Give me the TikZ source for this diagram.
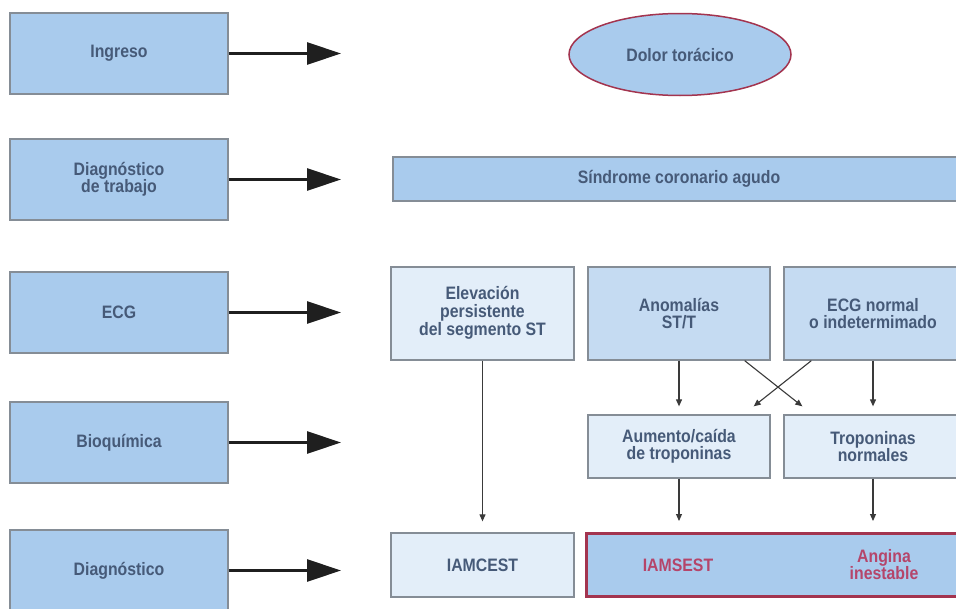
\documentclass[tikz,border=0pt]{standalone}
\usepackage{fontspec}
\setmainfont{Liberation Sans}[FakeStretch=0.88]
\usetikzlibrary{arrows.meta,shapes.geometric,calc}

\definecolor{stagefill}{HTML}{A9CBED}
\definecolor{palefill}{HTML}{E3EEF9}
\definecolor{midfill}{HTML}{C5DBF2}
\definecolor{boxline}{HTML}{858D96}
\definecolor{labelink}{HTML}{465A78}
\definecolor{wine}{HTML}{A3344F}
\definecolor{winetext}{HTML}{B5456A}
\definecolor{thinarrow}{HTML}{3A3A3A}

\newcommand\boxfont{\fontsize{18}{17}\selectfont\bfseries}

\tikzset{
  base/.style={draw=boxline, line width=1.3pt, text=labelink, font=\boxfont,
               align=center, inner sep=0pt},
  stage/.style={base, fill=stagefill, minimum width=218pt, minimum height=81pt},
  wideband/.style={base, fill=stagefill, minimum width=572pt, minimum height=44pt},
  palebox/.style={base, fill=palefill},
  midbox/.style={base, fill=midfill},
  ecgrow/.style={minimum height=93pt},
  biorow/.style={minimum height=63pt},
  dxrow/.style={minimum height=64pt},
  onset/.style={ellipse, draw=wine, line width=1.5pt, fill=stagefill, text=labelink,
                font=\boxfont, inner sep=0pt, minimum width=222pt, minimum height=82pt},
  finalbox/.style={draw=wine, line width=3pt, fill=stagefill, inner sep=0pt,
                   minimum width=380pt, minimum height=63pt},
  redlabel/.style={text=winetext, font=\boxfont, align=center, inner sep=0pt},
  bigarrow/.style={draw=black!88, line width=2.8pt,
                   -{Triangle[length=34pt,width=22pt]}},
  smallarrow/.style={draw=thinarrow, line width=1.1pt,
                     -{Triangle[length=7pt,width=6pt]}},
}

\begin{document}
\begin{tikzpicture}[x=1pt, y=-1pt]
  \fill[white] (0,0) rectangle (956,608);
  \useasboundingbox (0,0) rectangle (956,608);
  \clip (0,0) rectangle (956,608);

  % stage column
  \node[stage] (s1) at (119,53.5)  {Ingreso};
  \node[stage] (s2) at (119,179.5) {Diagnóstico\\de trabajo};
  \node[stage] (s3) at (119,312.5) {ECG};
  \node[stage] (s4) at (119,442.5) {Bioquímica};
  \node[stage] (s5) at (119,570.5) {Diagnóstico};

  % free ends of the stage arrows
  \coordinate (e1) at (341,53.5);
  \coordinate (e2) at (341,179.5);
  \coordinate (e3) at (341,312.5);
  \coordinate (e4) at (341,442.5);
  \coordinate (e5) at (341,570.5);
  \foreach \i in {1,...,5} \draw[bigarrow] (s\i.east) -- (e\i);

  % presentation and working diagnosis
  \node[onset] (pain) at (680,54.5) {Dolor torácico};
  \node[wideband] (acs) at (679,179) {Síndrome coronario agudo};

  % ECG findings
  \node[palebox, ecgrow, minimum width=183pt] (elev) at (482.5,313.5)
       {\raisebox{4pt}{\begin{tabular}{@{}c@{}}Elevación\\persistente\\del segmento ST\end{tabular}}};
  \node[midbox, ecgrow, minimum width=182pt] (anom) at (679,313.5) {Anomalías\\ST/T};
  \node[midbox, ecgrow, minimum width=178pt] (ecgn) at (873,313.5) {ECG normal\\o indetermimado};

  % biomarkers
  \node[palebox, biorow, minimum width=182pt] (rise) at (679,446.5) {Aumento/caída\\de troponinas};
  \node[palebox, biorow, minimum width=178pt] (tropn) at (873,446.5) {Troponinas\\normales};

  % final diagnosis
  \node[palebox, dxrow, minimum width=183pt] (stemi) at (482.5,565) {IAMCEST};
  \node[finalbox] (final) at (776,565) {};
  \node[redlabel] (nstemi) at (678,565) {IAMSEST};
  \node[redlabel] (ua) at (884,565) {Angina\\inestable};

  % flow between findings
  \draw[smallarrow, shorten >=11pt] (elev.south) -- (elev.south |- stemi.north);
  \draw[smallarrow, shorten >=8pt] (anom.south) -- (anom.south |- rise.north);
  \draw[smallarrow, shorten >=8pt] (ecgn.south) -- (ecgn.south |- tropn.north);
  \draw[smallarrow] ($(anom.south east)+(-26,0)$) -- ($(tropn.north west)+(19,-8)$);
  \draw[smallarrow] ($(ecgn.south west)+(28,0)$) -- ($(rise.north east)+(-17,-8)$);
  \draw[smallarrow, shorten >=11pt] (rise.south) -- (rise.south |- final.north);
  \draw[smallarrow, shorten >=11pt] (tropn.south) -- (tropn.south |- final.north);
\end{tikzpicture}
\end{document}
